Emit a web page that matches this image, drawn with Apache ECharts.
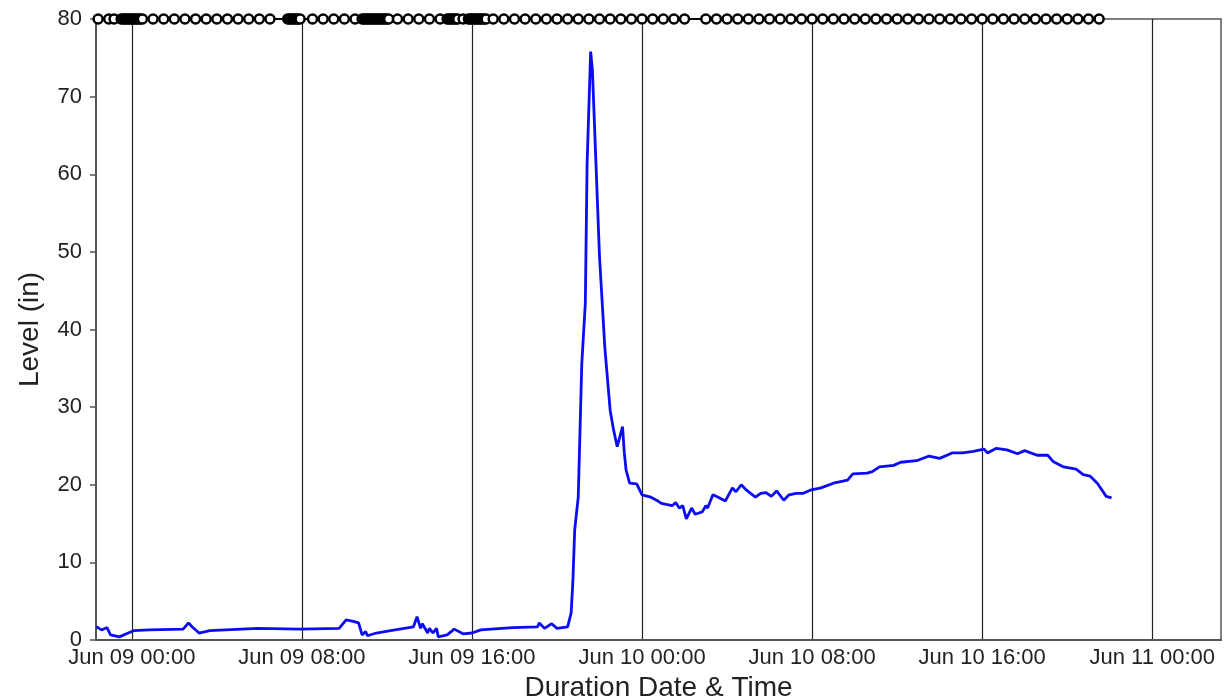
<!DOCTYPE html>
<html>
<head>
<meta charset="utf-8">
<script src="https://cdn.jsdelivr.net/npm/echarts@6/dist/echarts.min.js"></script>
<style>
  html, body { margin: 0; padding: 0; background: #fff; }
  #chart { width: 1225px; height: 696px; }
</style>
</head>
<body>
<div id="chart"></div>
<script>
// level readings (in)
const levelTimes = [
  '2023-06-08 22:20', '2023-06-08 22:35', '2023-06-08 22:50', '2023-06-08 23:00', '2023-06-08 23:05', '2023-06-08 23:25', '2023-06-08 23:45',
  '2023-06-09 00:05', '2023-06-09 00:50', '2023-06-09 02:25', '2023-06-09 02:40', '2023-06-09 02:50', '2023-06-09 03:10', '2023-06-09 03:40',
  '2023-06-09 05:55', '2023-06-09 07:55', '2023-06-09 09:45', '2023-06-09 10:05', '2023-06-09 10:25', '2023-06-09 10:40', '2023-06-09 10:50',
  '2023-06-09 11:00', '2023-06-09 11:05', '2023-06-09 11:30', '2023-06-09 12:10', '2023-06-09 13:15', '2023-06-09 13:25', '2023-06-09 13:35',
  '2023-06-09 13:40', '2023-06-09 13:55', '2023-06-09 14:00', '2023-06-09 14:10', '2023-06-09 14:20', '2023-06-09 14:25', '2023-06-09 14:50',
  '2023-06-09 15:10', '2023-06-09 15:35', '2023-06-09 16:00', '2023-06-09 16:25', '2023-06-09 17:55', '2023-06-09 19:05', '2023-06-09 19:10',
  '2023-06-09 19:25', '2023-06-09 19:45', '2023-06-09 20:00', '2023-06-09 20:15', '2023-06-09 20:30', '2023-06-09 20:40', '2023-06-09 20:45',
  '2023-06-09 20:50', '2023-06-09 21:00', '2023-06-09 21:10', '2023-06-09 21:20', '2023-06-09 21:25', '2023-06-09 21:35', '2023-06-09 21:40',
  '2023-06-09 21:50', '2023-06-09 22:00', '2023-06-09 22:15', '2023-06-09 22:30', '2023-06-09 22:40', '2023-06-09 22:50', '2023-06-09 23:05',
  '2023-06-09 23:10', '2023-06-09 23:15', '2023-06-09 23:25', '2023-06-09 23:30', '2023-06-09 23:45',
  '2023-06-10 00:00', '2023-06-10 00:25', '2023-06-10 00:45', '2023-06-10 00:55', '2023-06-10 01:25', '2023-06-10 01:35', '2023-06-10 01:45',
  '2023-06-10 01:55', '2023-06-10 02:05', '2023-06-10 02:20', '2023-06-10 02:30', '2023-06-10 02:50', '2023-06-10 03:00', '2023-06-10 03:05',
  '2023-06-10 03:20', '2023-06-10 03:35', '2023-06-10 03:55', '2023-06-10 04:15', '2023-06-10 04:25', '2023-06-10 04:40', '2023-06-10 04:55',
  '2023-06-10 05:20', '2023-06-10 05:35', '2023-06-10 05:50', '2023-06-10 06:05', '2023-06-10 06:20', '2023-06-10 06:40', '2023-06-10 06:55',
  '2023-06-10 07:15', '2023-06-10 07:35', '2023-06-10 07:55', '2023-06-10 08:25', '2023-06-10 09:00', '2023-06-10 09:20', '2023-06-10 09:40',
  '2023-06-10 09:55', '2023-06-10 10:35', '2023-06-10 10:50', '2023-06-10 11:10', '2023-06-10 11:50', '2023-06-10 12:10', '2023-06-10 12:55',
  '2023-06-10 13:30', '2023-06-10 14:00', '2023-06-10 14:35', '2023-06-10 15:05', '2023-06-10 15:35', '2023-06-10 16:05', '2023-06-10 16:15',
  '2023-06-10 16:40', '2023-06-10 17:10', '2023-06-10 17:40', '2023-06-10 18:00', '2023-06-10 18:35', '2023-06-10 19:05', '2023-06-10 19:20',
  '2023-06-10 19:50', '2023-06-10 20:25', '2023-06-10 20:45', '2023-06-10 21:05', '2023-06-10 21:25', '2023-06-10 21:50', '2023-06-10 22:05'
];
const levelValues = [
  1.7, 1.3, 1.6, 0.65, 0.9, 0.4, 0.8,
  1.2, 1.3, 1.4, 2.2, 1.7, 0.9, 1.2,
  1.5, 1.4, 1.5, 2.6, 2.4, 2.2, 0.65,
  1.1, 0.55, 0.9, 1.2, 1.7, 3.0, 1.5,
  2.1, 0.9, 1.5, 0.9, 1.5, 0.4, 0.65,
  1.4, 0.8, 0.9, 1.3, 1.6, 1.7, 2.2,
  1.5, 2.1, 1.5, 1.6, 1.7, 3.5, 7.7,
  14.2, 18.4, 35.6, 43.4, 61.4, 75.8, 73.4,
  61.4, 49.4, 37.7, 29.6, 27.0, 24.9, 27.5,
  24.1, 21.9, 20.2, 20.0, 20.1,
  18.7, 18.4, 17.9, 17.6, 17.3, 17.7, 17.0,
  17.3, 15.6, 17.0, 16.2, 16.5, 17.3, 17.0,
  18.7, 18.4, 17.9, 19.6, 19.1, 20.0, 19.3,
  18.4, 18.9, 19.0, 18.5, 19.2, 18.0, 18.7,
  18.9, 18.9, 19.3, 19.6, 20.2, 20.4, 20.6,
  21.4, 21.5, 21.7, 22.3, 22.5, 22.9, 23.1,
  23.7, 23.4, 24.1, 24.1, 24.3, 24.6, 24.1,
  24.7, 24.5, 24.0, 24.4, 23.8, 23.8, 23.0,
  22.3, 22.0, 21.3, 21.1, 20.2, 18.5, 18.3
];

// record markers along the top (times of day, per date)
const markTimesJun08 = ['22:25', '22:55', '23:10', '23:30', '23:35', '23:40', '23:45', '23:50', '23:55'];
const markTimesJun09 = [
  '00:00', '00:05', '00:10', '00:15', '00:20', '00:25', '00:30',
  '01:00', '01:30', '02:00', '02:30', '03:00', '03:30', '04:00', '04:30', '05:00', '05:30', '06:00', '06:30',
  '07:20', '07:25', '07:30', '07:35', '07:40', '07:45', '07:50', '07:55',
  '08:30', '09:00', '09:30', '10:00', '10:30',
  '10:50', '10:55', '11:00', '11:05', '11:10', '11:15', '11:20', '11:25', '11:30', '11:35', '11:40', '11:45', '11:50', '11:55', '12:00', '12:05',
  '12:30', '13:00', '13:30', '14:00', '14:30',
  '14:50', '14:55', '15:00', '15:05', '15:10', '15:15', '15:20', '15:35',
  '15:50', '15:55', '16:00', '16:05', '16:10', '16:15', '16:20', '16:25', '16:30', '16:35', '16:40',
  '17:00', '17:30', '18:00', '18:30', '19:00', '19:30', '20:00', '20:30', '21:00', '21:30', '22:00', '22:30', '23:00', '23:30'
];
const markTimesJun10 = [
  '00:00', '00:30', '01:00', '01:30', '02:00', '03:00', '03:30', '04:00', '04:30', '05:00', '05:30',
  '06:00', '06:30', '07:00', '07:30', '08:00', '08:30', '09:00', '09:30', '10:00', '10:30', '11:00',
  '11:30', '12:00', '12:30', '13:00', '13:30', '14:00', '14:30', '15:00', '15:30', '16:00', '16:30',
  '17:00', '17:30', '18:00', '18:30', '19:00', '19:30', '20:00', '20:30', '21:00', '21:30'
];
const markLevel = 80;

const xTickTimes = ['2023-06-09 00:00', '2023-06-09 08:00', '2023-06-09 16:00', '2023-06-10 00:00',
  '2023-06-10 08:00', '2023-06-10 16:00', '2023-06-11 00:00'];
const xTickLabels = ['Jun 09 00:00', 'Jun 09 08:00', 'Jun 09 16:00', 'Jun 10 00:00',
  'Jun 10 08:00', 'Jun 10 16:00', 'Jun 11 00:00'];
const xStart = '2023-06-08 22:19';
const xEnd = '2023-06-11 03:14';

const toMs = s => new Date(s.replace(' ', 'T')).getTime();
const tickMs = xTickTimes.map(toMs);

const levelData = levelTimes.map((t, i) => [toMs(t), levelValues[i]]);
const markData = []
  .concat(markTimesJun08.map(t => [toMs('2023-06-08 ' + t), markLevel]))
  .concat(markTimesJun09.map(t => [toMs('2023-06-09 ' + t), markLevel]))
  .concat(markTimesJun10.map(t => [toMs('2023-06-10 ' + t), markLevel]));

const chart = echarts.init(document.getElementById('chart'));
const font = 'Liberation Sans, Arial, sans-serif';

chart.setOption({
  animation: false,
  backgroundColor: '#fff',
  textStyle: { fontFamily: font },
  grid: {
    left: 96, right: 4, top: 19, bottom: 56,
    outerBoundsMode: 'none',
    containLabel: false,
    show: true,
    borderColor: '#555',
    borderWidth: 1.5
  },
  xAxis: {
    type: 'value',
    min: toMs(xStart),
    max: toMs(xEnd),
    name: 'Duration Date & Time',
    nameLocation: 'middle',
    nameGap: 31,
    nameTextStyle: { fontSize: 28, color: '#222', fontFamily: font },
    axisLine: { lineStyle: { color: '#555', width: 2 } },
    axisTick: { show: false, customValues: tickMs },
    axisLabel: {
      customValues: tickMs,
      fontSize: 22,
      color: '#222',
      margin: 7,
      fontFamily: font,
      formatter: function (v) {
        const i = tickMs.indexOf(v);
        return i >= 0 ? xTickLabels[i] : '';
      }
    },
    splitLine: { show: true, lineStyle: { color: '#222', width: 1.2 } }
  },
  yAxis: {
    type: 'value',
    min: 0,
    max: 80,
    interval: 10,
    name: 'Level (in)',
    nameLocation: 'middle',
    nameRotate: 90,
    nameGap: 52,
    nameTextStyle: { fontSize: 28, color: '#222', fontFamily: font },
    axisLine: { show: true, lineStyle: { color: '#555', width: 2 } },
    axisTick: { show: true, length: 6, lineStyle: { color: '#555', width: 1.5 } },
    axisLabel: { fontSize: 22, color: '#222', margin: 14, fontFamily: font },
    splitLine: { show: false }
  },
  series: [
    {
      name: 'Level',
      type: 'line',
      data: levelData,
      showSymbol: false,
      symbol: 'none',
      lineStyle: { color: '#0c0cf2', width: 2.8 },
      z: 3
    },
    {
      name: 'Records',
      type: 'line',
      data: markData,
      clip: false,
      symbol: 'circle',
      symbolSize: 9,
      itemStyle: { color: '#fff', borderColor: '#000', borderWidth: 2.5 },
      lineStyle: { color: '#000', width: 2 },
      z: 4
    }
  ]
});
</script>
</body>
</html>
